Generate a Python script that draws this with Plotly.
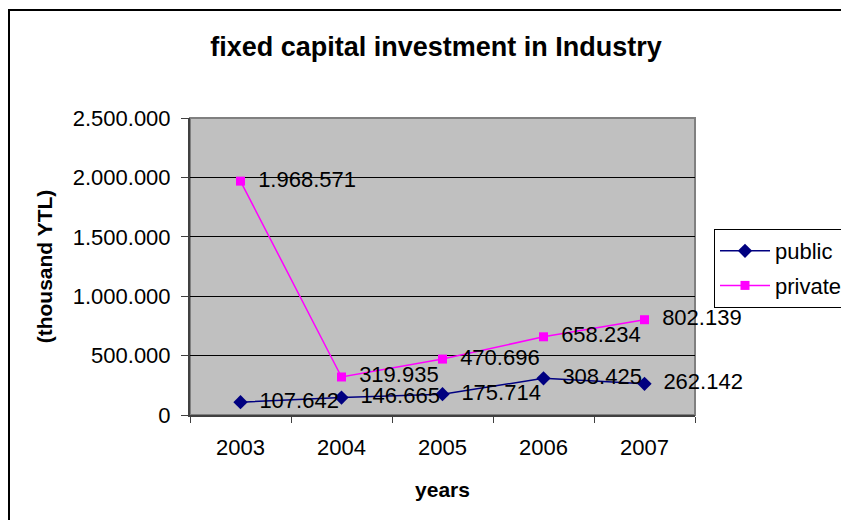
import plotly.graph_objects as go

years = ["2003", "2004", "2005", "2006", "2007"]
public = [107642, 146665, 175714, 308425, 262142]
private = [1968571, 319935, 470696, 658234, 802139]

W, H = 841, 520
L, R, T, B = 190, 146, 118, 105
pw, ph = W - L - R, H - T - B

def px_x(x):
    return (x - L) / pw

def px_y(y):
    return (H - B - y) / ph

FONT = "Liberation Sans, Arial, sans-serif"
LABEL_TPL = "\u2002%{y:,}"

fig = go.Figure()
fig.add_trace(go.Scatter(
    x=years, y=public, name="public", legendgroup="public",
    mode="lines+markers+text",
    line=dict(color="#000080", width=1.5),
    marker=dict(symbol="diamond", size=11, color="#000080"),
    texttemplate=LABEL_TPL, textposition="middle right", cliponaxis=False,
    textfont=dict(size=22, color="black", family=FONT),
))
fig.add_trace(go.Scatter(
    x=years, y=private, name="private", legendgroup="private",
    mode="lines+markers+text",
    line=dict(color="#FF00FF", width=1.5),
    marker=dict(symbol="square", size=9, color="#FF00FF"),
    texttemplate=LABEL_TPL, textposition="middle right", cliponaxis=False,
    textfont=dict(size=22, color="black", family=FONT),
))

# outer chart frame
fig.add_shape(type="rect", xref="paper", yref="paper",
              x0=px_x(9), x1=px_x(860), y0=px_y(540), y1=px_y(10),
              line=dict(color="black", width=2), fillcolor="rgba(0,0,0,0)",
              layer="below")
# plot area frame
fig.add_shape(type="rect", xref="paper", yref="paper",
              x0=0, x1=1, y0=0, y1=1,
              line=dict(color="#808080", width=2), fillcolor="rgba(0,0,0,0)",
              layer="below")

fig.update_layout(
    width=W, height=H,
    margin=dict(l=L, r=R, t=T, b=B, autoexpand=False),
    paper_bgcolor="white", plot_bgcolor="#C0C0C0",
    separators=",.",
    font=dict(family=FONT, size=22, color="black"),
    title=dict(text="<b>fixed capital investment in Industry</b>",
               x=px_x(436), xref="paper", xanchor="center",
               y=1 - 47 / H, yref="container", yanchor="middle",
               font=dict(size=27, family=FONT, color="black")),
    showlegend=True,
    legend=dict(x=px_x(714), y=px_y(229), xanchor="left", yanchor="top",
                bgcolor="white", bordercolor="black", borderwidth=1,
                font=dict(size=22, family=FONT, color="black"),
                tracegroupgap=3, itemwidth=50),
    xaxis=dict(type="category", range=[-0.5, 4.5], tickson="boundaries",
               ticks="outside", ticklen=6, tickcolor="#404040",
               showline=True, linecolor="#404040", linewidth=2, showgrid=False,
               tickfont=dict(size=22), ticklabelstandoff=12,
               title=dict(text="<b>years</b>", font=dict(size=21), standoff=23)),
    yaxis=dict(range=[0, 2500000], tickvals=[0, 500000, 1000000, 1500000, 2000000, 2500000],
               tickformat=",", ticks="outside", ticklen=7, tickcolor="#404040",
               showline=True, linecolor="#404040", linewidth=2,
               showgrid=True, gridcolor="black", gridwidth=1, zeroline=False,
               tickfont=dict(size=22), ticklabelstandoff=6,
               title=dict(text="<b>(thousand YTL)</b>", font=dict(size=21), standoff=14)),
)

fig.write_html("out.html")
